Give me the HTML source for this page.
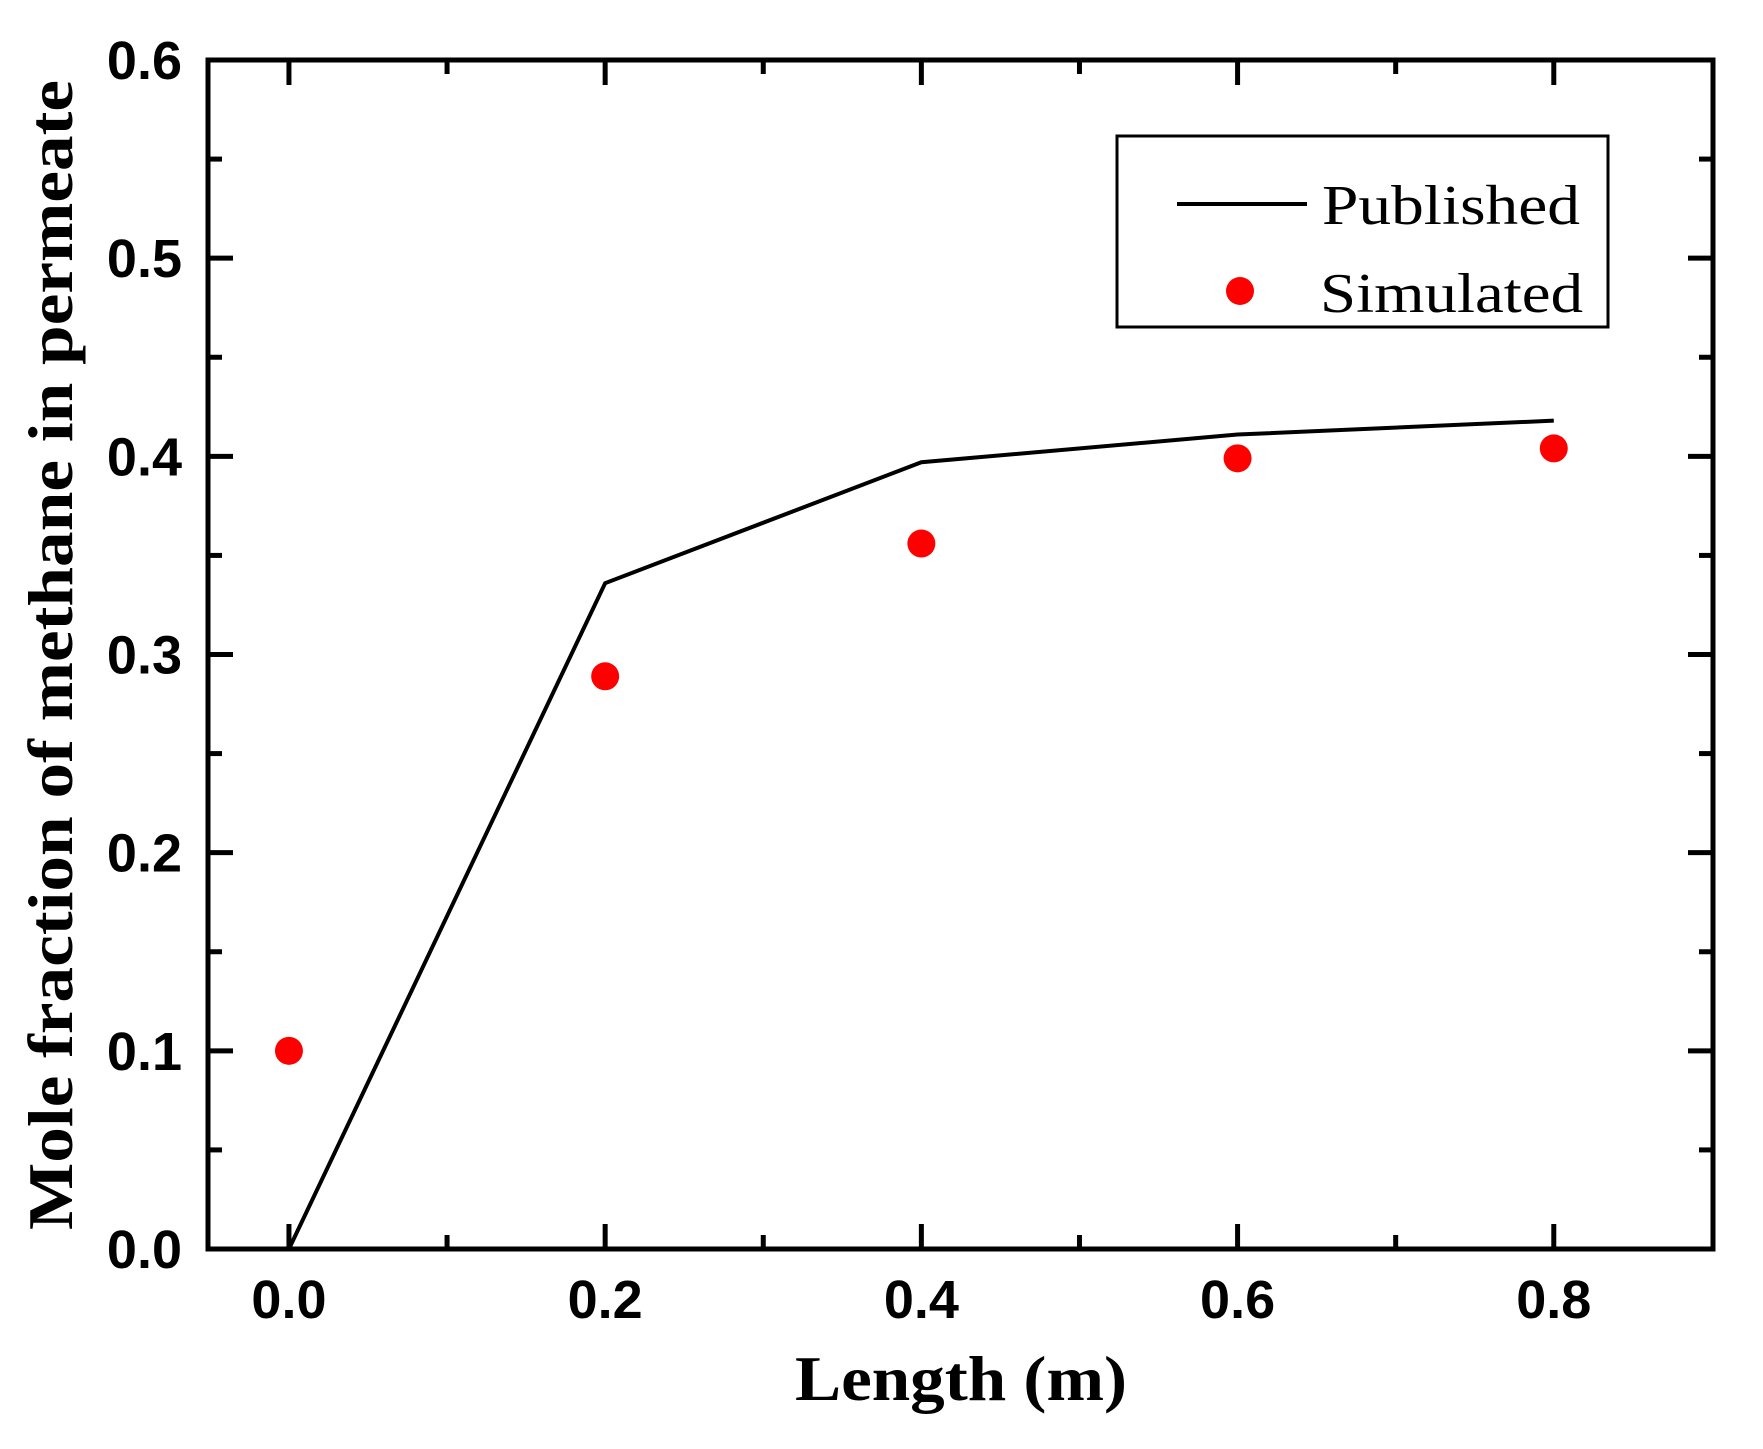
<!DOCTYPE html>
<html><head><meta charset="utf-8"><style>
html,body{margin:0;padding:0;background:#fff;}
svg{display:block;}
</style></head><body>
<svg id="chart" width="1763" height="1449" viewBox="0 0 1763 1449" xmlns="http://www.w3.org/2000/svg">
<g id="ticks"></g>
<g id="marks"></g>
<rect x="208" y="60" width="1505" height="1189" fill="none" stroke="#000" stroke-width="5"/>
<g id="labels" font-family="Liberation Sans, sans-serif" font-weight="bold" font-size="54" fill="#000"></g>
<text x="961" y="1400" text-anchor="middle" textLength="332" lengthAdjust="spacingAndGlyphs" font-family="Liberation Serif, serif" font-weight="bold" font-size="64">Length (m)</text>
<text transform="translate(72,655) rotate(-90)" text-anchor="middle" textLength="1150" lengthAdjust="spacingAndGlyphs" font-family="Liberation Serif, serif" font-weight="bold" font-size="64">Mole fraction of methane in permeate</text>
<g>
<rect x="1117" y="136" width="491" height="191" fill="#fff" stroke="#000" stroke-width="3"/>
<line x1="1177" y1="204" x2="1307" y2="204" stroke="#000" stroke-width="4"/>
<text x="1322" y="224" textLength="258" lengthAdjust="spacingAndGlyphs" font-family="Liberation Serif, serif" font-size="56">Published</text>
<circle cx="1240" cy="291" r="14" fill="#f00"/>
<text x="1320" y="312" textLength="263" lengthAdjust="spacingAndGlyphs" font-family="Liberation Serif, serif" font-size="56">Simulated</text>
</g>
</svg>
<script>
const xs = [0, 0.2, 0.4, 0.6, 0.8];
const published = [0, 0.336, 0.397, 0.411, 0.418];
const simulated = [0.1, 0.289, 0.356, 0.399, 0.404];
const xTickLabels = ["0.0", "0.2", "0.4", "0.6", "0.8"];
const yTickLabels = ["0.0", "0.1", "0.2", "0.3", "0.4", "0.5", "0.6"];

const L=208,R=1713,T=60,B=1249;
const xMin=-0.0512,xMax=0.9007,yMin=0,yMax=0.6;
function sx(v){return L+(v-xMin)/(xMax-xMin)*(R-L);}
function sy(v){return B-(v-yMin)/(yMax-yMin)*(B-T);}
const NS="http://www.w3.org/2000/svg";
function mk(tag,attrs,parent){const e=document.createElementNS(NS,tag);for(const k in attrs)e.setAttribute(k,attrs[k]);parent.appendChild(e);return e;}
const ticks=document.getElementById('ticks'),marks=document.getElementById('marks'),labels=document.getElementById('labels');

for(let i=0;i<=8;i++){
  const v=i*0.1,x=sx(v),len=(i%2===0)?25:14;
  let t=mk('line',{x1:x,y1:B,x2:x,y2:B-len,stroke:'#000','stroke-width':5},ticks);
  
  
  t=mk('line',{x1:x,y1:T,x2:x,y2:T+len,stroke:'#000','stroke-width':5},ticks);
  
  
}
for(let i=0;i<=12;i++){
  const v=i*0.05,y=sy(v),len=(i%2===0)?25:14;
  let t=mk('line',{x1:L,y1:y,x2:L+len,y2:y,stroke:'#000','stroke-width':5},ticks);
  
  
  t=mk('line',{x1:R,y1:y,x2:R-len,y2:y,stroke:'#000','stroke-width':5},ticks);
  
  
}
xTickLabels.forEach((s,i)=>{
  const t=mk('text',{x:sx(parseFloat(s)),y:1318,'text-anchor':'middle'},labels);
  t.textContent=s;
  
  
});
yTickLabels.forEach((s,i)=>{
  const t=mk('text',{x:182,y:sy(parseFloat(s))+19,'text-anchor':'end'},labels);
  t.textContent=s;
  
  
});
const pts=xs.map((x,i)=>sx(x)+','+sy(published[i])).join(' ');
const pl=mk('polyline',{points:pts,fill:'none',stroke:'#000','stroke-width':4,'stroke-linejoin':'miter'},marks);


xs.forEach((x,i)=>{
  const c=mk('circle',{cx:sx(x),cy:sy(simulated[i]),r:14,fill:'#f00'},marks);
  
  
});
</script>
</body></html>
